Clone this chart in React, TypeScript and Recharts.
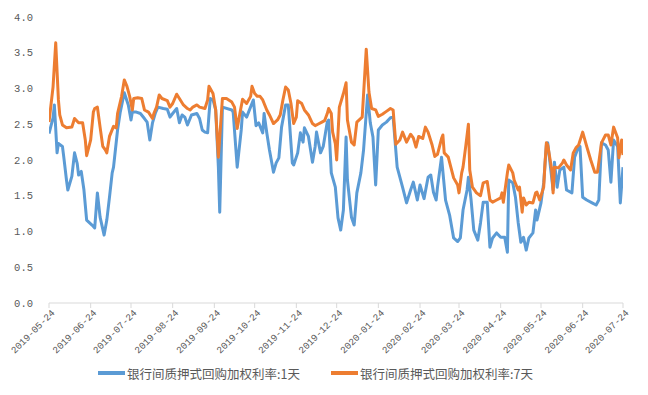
import React from 'react';
import { LineChart, Line, XAxis, YAxis, Legend } from 'recharts';

const START = '2019-05-24';
const monthTicks = [
  '2019-05-24', '2019-06-24', '2019-07-24', '2019-08-24', '2019-09-24', '2019-10-24', '2019-11-24',
  '2019-12-24', '2020-01-24', '2020-02-24', '2020-03-24', '2020-04-24', '2020-05-24', '2020-06-24', '2020-07-24',
];
const yTicks = [0, 0.5, 1, 1.5, 2, 2.5, 3, 3.5, 4];
const seriesNames = ['银行间质押式回购加权利率:1天', '银行间质押式回购加权利率:7天'];
const seriesColors = ['#5B9BD5', '#ED7D31'];

// days since 2019-05-24
const blueDays = [
  0, 3, 4, 6, 7, 10, 11, 13, 14, 17, 19, 21, 22, 24, 26, 28, 32, 34, 36, 38, 41, 43, 45, 47, 48, 51, 53, 56, 59,
  61, 62, 65, 68, 71, 73, 75, 77, 79, 81, 85, 88, 90, 92, 95, 97, 99, 101, 103, 106, 110, 112, 114, 116, 118,
  119, 120, 122, 124, 126, 127, 129, 136, 137, 140, 143, 144, 147, 152, 154, 156, 159, 160, 162, 164, 167, 169,
  171, 173, 176, 178, 181, 182, 185, 187, 189, 190, 193, 196, 198, 199, 202, 204, 207, 208, 210, 213, 215, 217,
  219, 221, 222, 225, 227, 229, 232, 234, 237, 239, 241, 243, 245, 248, 251, 254, 256, 259, 261, 263, 266, 269,
  271, 274, 276, 279, 282, 284, 286, 288, 289, 292, 295, 298, 301, 304, 306, 308, 311, 312, 314, 316, 319, 321,
  323, 326, 328, 330, 333, 336, 339, 341, 342, 345, 347, 349, 351, 353, 355, 357, 360, 362, 363, 366, 368, 370,
  371, 375, 376, 378, 380, 383, 385, 389, 391, 393, 395, 397, 400, 404, 407, 409, 411, 414, 416, 418, 420, 423,
  425, 427,
];
const blueValues = [
  2.37, 2.59, 2.77, 2.10, 2.23, 2.19, 2.04, 1.72, 1.58, 1.77, 2.10, 1.95, 1.79, 1.84, 1.58, 1.16, 1.09, 1.05,
  1.54, 1.20, 0.95, 1.16, 1.48, 1.82, 1.90, 2.42, 2.67, 2.94, 2.77, 2.56, 2.67, 2.67, 2.65, 2.58, 2.53, 2.28,
  2.52, 2.65, 2.74, 2.72, 2.71, 2.60, 2.65, 2.72, 2.52, 2.63, 2.60, 2.49, 2.63, 2.65, 2.58, 2.42, 2.39, 2.38,
  2.63, 2.86, 2.84, 2.70, 1.90, 1.27, 2.74, 2.70, 2.67, 1.90, 2.42, 2.67, 2.60, 2.84, 2.48, 2.52, 2.38, 2.65,
  2.38, 2.14, 1.83, 1.96, 2.03, 2.46, 2.77, 2.77, 1.96, 1.93, 2.10, 2.38, 2.25, 2.45, 2.33, 1.97, 2.19, 2.39,
  2.10, 2.19, 2.53, 2.56, 1.82, 1.62, 1.19, 1.02, 1.30, 2.32, 1.72, 1.20, 1.09, 1.54, 1.82, 2.14, 2.91, 2.52,
  2.32, 1.65, 2.42, 2.49, 2.53, 2.59, 2.60, 1.90, 1.76, 1.62, 1.40, 1.58, 1.69, 1.44, 1.65, 1.46, 1.76, 1.79,
  1.55, 1.44, 1.62, 2.04, 1.44, 1.23, 0.91, 0.86, 0.91, 1.30, 1.58, 1.76, 1.44, 1.02, 0.88, 1.12, 1.41, 1.41,
  0.78, 0.91, 0.98, 0.92, 0.92, 0.71, 1.72, 1.68, 1.48, 1.13, 0.85, 0.92, 0.74, 0.91, 0.98, 1.30, 1.16, 1.40,
  1.68, 2.21, 2.24, 1.58, 1.97, 1.62, 1.86, 1.90, 1.58, 1.54, 2.04, 2.14, 2.19, 1.48, 1.44, 1.40, 1.37, 1.44,
  2.24, 2.21, 2.14, 1.69, 2.28, 2.19, 1.40, 1.90,
];

const orangeDays = [
  0, 3, 5, 7, 8, 10, 13, 17, 19, 22, 25, 27, 28, 31, 33, 34, 36, 38, 40, 42, 43, 45, 48, 50, 51, 54, 56, 58, 60,
  62, 63, 66, 69, 71, 74, 77, 78, 80, 82, 84, 88, 90, 92, 95, 97, 100, 103, 105, 107, 110, 112, 116, 118, 119,
  122, 124, 126, 129, 132, 136, 138, 140, 142, 144, 147, 150, 151, 153, 155, 157, 159, 162, 164, 167, 170, 172,
  174, 176, 178, 180, 182, 184, 185, 188, 190, 193, 196, 198, 200, 203, 205, 207, 208, 210, 211, 213, 214, 216,
  219, 221, 222, 225, 227, 229, 233, 236, 238, 240, 243, 245, 248, 251, 254, 256, 258, 261, 263, 266, 269, 271,
  273, 275, 278, 280, 282, 285, 287, 289, 292, 293, 294, 297, 301, 304, 305, 307, 308, 310, 312, 313, 315, 318,
  321, 323, 326, 328, 330, 333, 336, 337, 338, 341, 342, 345, 346, 349, 350, 352, 353, 355, 357, 360, 362, 363,
  365, 368, 369, 370, 371, 374, 375, 376, 379, 382, 383, 385, 388, 390, 392, 394, 397, 400, 403, 406, 408, 411,
  414, 416, 418, 420, 423, 424, 426, 427,
];
const orangeValues = [
  2.53, 3.02, 3.64, 2.84, 2.63, 2.49, 2.45, 2.46, 2.58, 2.52, 2.52, 2.28, 2.06, 2.28, 2.67, 2.72, 2.74, 2.46,
  2.19, 2.14, 2.10, 2.33, 2.47, 2.45, 2.65, 2.89, 3.12, 3.03, 2.89, 2.70, 2.86, 2.87, 2.86, 2.70, 2.67, 2.58,
  2.65, 2.74, 2.91, 2.86, 2.83, 2.74, 2.79, 2.92, 2.86, 2.77, 2.72, 2.70, 2.74, 2.77, 2.74, 2.72, 2.84, 3.03,
  2.93, 2.70, 2.04, 2.86, 2.86, 2.81, 2.74, 2.44, 2.65, 2.85, 2.79, 2.89, 3.03, 2.93, 2.89, 2.89, 2.84, 2.70,
  2.63, 2.51, 2.56, 2.63, 2.84, 3.02, 2.98, 2.79, 2.51, 2.60, 2.83, 2.79, 2.70, 2.63, 2.51, 2.48, 2.50, 2.53,
  2.55, 2.65, 2.72, 2.65, 2.39, 2.23, 2.00, 2.74, 2.93, 3.08, 2.56, 2.25, 2.21, 2.53, 2.60, 3.55, 2.95, 2.72,
  2.70, 2.61, 2.64, 2.68, 2.72, 2.70, 2.22, 2.28, 2.39, 2.25, 2.36, 2.31, 2.18, 2.33, 2.30, 2.46, 2.39, 2.21,
  2.05, 2.08, 2.30, 2.35, 2.10, 2.04, 1.75, 1.65, 1.54, 1.82, 1.90, 2.19, 2.50, 1.86, 1.62, 1.54, 1.50, 1.68,
  1.70, 1.44, 1.41, 1.44, 1.47, 1.54, 1.41, 1.82, 1.93, 1.82, 1.72, 1.58, 1.62, 1.27, 1.47, 1.37, 1.41, 1.40,
  1.54, 1.55, 1.44, 1.62, 1.96, 2.24, 2.21, 1.86, 1.54, 1.90, 1.89, 1.96, 2.00, 1.93, 1.86, 2.10, 2.17, 2.21,
  2.39, 2.19, 2.00, 1.83, 1.83, 2.24, 2.35, 2.35, 2.21, 2.46, 2.31, 2.03, 2.28, 2.07,
];

const DAY = 86400000;
const startMs = Date.parse(START + 'T00:00:00Z');
const toDay = (s: string) => Math.round((Date.parse(s + 'T00:00:00Z') - startMs) / DAY);
const tickDays = monthTicks.map(toDay);
const tickLabel: Record<number, string> = {};
tickDays.forEach((d, i) => { tickLabel[d] = monthTicks[i]; });

const blueData = blueDays.map((d, i) => ({ day: d, value: blueValues[i] }));
const orangeData = orangeDays.map((d, i) => ({ day: d, value: orangeValues[i] }));

const XTick = (props: any) => {
  const { x, y, payload } = props;
  return (
    <g transform={`translate(${x + 4},${y + 1})`}>
      <text x={0} y={0} dy="0.35em" textAnchor="end" transform="rotate(-45)" fill="#595959"
        fontSize={9.6} fontFamily="'Liberation Mono', monospace">
        {tickLabel[payload.value] ?? ''}
      </text>
    </g>
  );
};

const LegendContent = () => (
  <div style={{ display: 'flex', justifyContent: 'center', alignItems: 'center', height: 30, fontFamily: "'Noto Sans CJK SC', sans-serif", fontSize: 12.5, color: '#595959' }}>
    {seriesNames.map((n, i) => (
      <div key={n} style={{ display: 'flex', alignItems: 'center', marginLeft: i === 0 ? 0 : 31 }}>
        <svg width={27} height={6} style={{ marginRight: 2 }}>
          <line x1={0} y1={3} x2={27} y2={3} stroke={seriesColors[i]} strokeWidth={4} />
        </svg>
        <span>{n}</span>
      </div>
    ))}
  </div>
);

export default function App() {
  return (
    <LineChart width={632} height={380} margin={{ top: 9, right: 17, left: 0, bottom: 0 }}>
      <XAxis type="number" dataKey="day" domain={[0, 427]} ticks={tickDays} allowDataOverflow
        stroke="#D9D9D9" tickSize={5} tickMargin={2} height={55} tick={<XTick />} interval={0} />
      <YAxis type="number" domain={[0, 4]} ticks={yTicks} width={41} axisLine={false} tickLine={false}
        tickMargin={10} tickFormatter={(v: number) => v.toFixed(1)}
        tick={{ fill: '#595959', fontSize: 10.5, fontFamily: "'Liberation Mono', monospace" }} />
      <Legend verticalAlign="bottom" height={30} content={<LegendContent />} />
      <Line data={blueData} dataKey="value" name={seriesNames[0]} type="linear" stroke={seriesColors[0]}
        strokeWidth={3} dot={false} isAnimationActive={false} strokeLinejoin="round" />
      <Line data={orangeData} dataKey="value" name={seriesNames[1]} type="linear" stroke={seriesColors[1]}
        strokeWidth={3} dot={false} isAnimationActive={false} strokeLinejoin="round" />
    </LineChart>
  );
}
